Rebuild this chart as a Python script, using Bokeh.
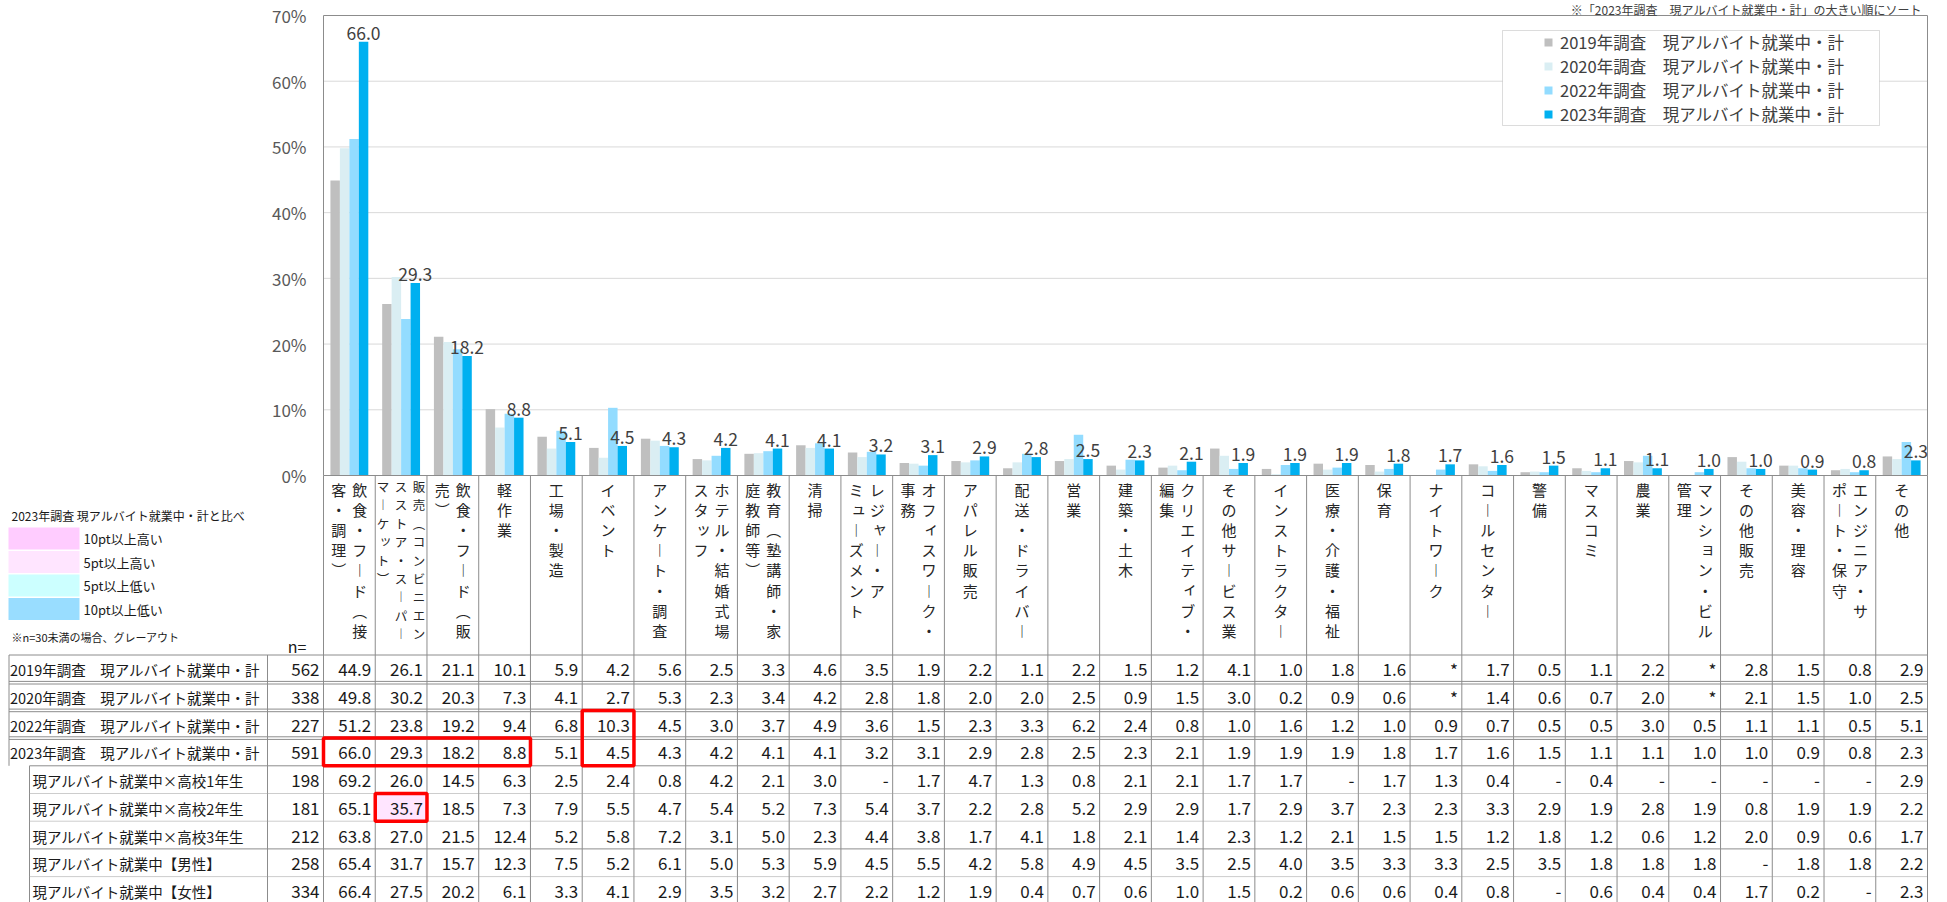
import math
from bokeh.plotting import figure
from bokeh.models import (Range1d, Legend, LegendItem, BoxAnnotation, ColumnDataSource)
from bokeh.embed import file_html
from bokeh.resources import INLINE
from bokeh.core.properties import value

# ---------------- data ----------------
categories = [
    "飲食・フード（接客・調理）", "販売（コンビニエンスストア・スーパーマーケット）", "飲食・フード（販売）",
    "軽作業", "工場・製造", "イベント", "アンケート・調査", "ホテル・結婚式場スタッフ",
    "教育（塾講師・家庭教師等）", "清掃", "レジャー・アミューズメント", "オフィスワーク・事務",
    "アパレル販売", "配送・ドライバー", "営業", "建築・土木", "クリエイティブ・編集",
    "その他サービス業", "インストラクター", "医療・介護・福祉", "保育", "ナイトワーク",
    "コールセンター", "警備", "マスコミ", "農業", "マンション・ビル管理", "その他販売",
    "美容・理容", "エンジニア・サポート・保守", "その他",
]
# characters per vertical label column (right column first)
label_col_lengths = [
    [8, 5], [9, 9, 6], [8, 2], [3], [5], [4], [8], [8, 4], [8, 5], [2], [6, 7], [8, 2],
    [6], [8], [2], [5], [8, 2], [8], [8], [8], [2], [6], [7], [2], [4], [2], [8, 2],
    [5], [5], [7, 6], [3],
]

series_names = [
    "2019年調査\u3000現アルバイト就業中・計",
    "2020年調査\u3000現アルバイト就業中・計",
    "2022年調査\u3000現アルバイト就業中・計",
    "2023年調査\u3000現アルバイト就業中・計",
]
series_n = [562, 338, 227, 591]
v2019 = [44.9, 26.1, 21.1, 10.1, 5.9, 4.2, 5.6, 2.5, 3.3, 4.6, 3.5, 1.9, 2.2, 1.1, 2.2, 1.5,
         1.2, 4.1, 1.0, 1.8, 1.6, None, 1.7, 0.5, 1.1, 2.2, None, 2.8, 1.5, 0.8, 2.9]
v2020 = [49.8, 30.2, 20.3, 7.3, 4.1, 2.7, 5.3, 2.3, 3.4, 4.2, 2.8, 1.8, 2.0, 2.0, 2.5, 0.9,
         1.5, 3.0, 0.2, 0.9, 0.6, None, 1.4, 0.6, 0.7, 2.0, None, 2.1, 1.5, 1.0, 2.5]
v2022 = [51.2, 23.8, 19.2, 9.4, 6.8, 10.3, 4.5, 3.0, 3.7, 4.9, 3.6, 1.5, 2.3, 3.3, 6.2, 2.4,
         0.8, 1.0, 1.6, 1.2, 1.0, 0.9, 0.7, 0.5, 0.5, 3.0, 0.5, 1.1, 1.1, 0.5, 5.1]
v2023 = [66.0, 29.3, 18.2, 8.8, 5.1, 4.5, 4.3, 4.2, 4.1, 4.1, 3.2, 3.1, 2.9, 2.8, 2.5, 2.3,
         2.1, 1.9, 1.9, 1.9, 1.8, 1.7, 1.6, 1.5, 1.1, 1.1, 1.0, 1.0, 0.9, 0.8, 2.3]

sub_names = [
    "現アルバイト就業中×高校1年生", "現アルバイト就業中×高校2年生", "現アルバイト就業中×高校3年生",
    "現アルバイト就業中【男性】", "現アルバイト就業中【女性】",
]
sub_n = [198, 181, 212, 258, 334]
grade1 = [69.2, 26.0, 14.5, 6.3, 2.5, 2.4, 0.8, 4.2, 2.1, 3.0, None, 1.7, 4.7, 1.3, 0.8, 2.1,
          2.1, 1.7, 1.7, None, 1.7, 1.3, 0.4, None, 0.4, None, None, None, None, None, 2.9]
grade2 = [65.1, 35.7, 18.5, 7.3, 7.9, 5.5, 4.7, 5.4, 5.2, 7.3, 5.4, 3.7, 2.2, 2.8, 5.2, 2.9,
          2.9, 1.7, 2.9, 3.7, 2.3, 2.3, 3.3, 2.9, 1.9, 2.8, 1.9, 0.8, 1.9, 1.9, 2.2]
grade3 = [63.8, 27.0, 21.5, 12.4, 5.2, 5.8, 7.2, 3.1, 5.0, 2.3, 4.4, 3.8, 1.7, 4.1, 1.8, 2.1,
          1.4, 2.3, 1.2, 2.1, 1.5, 1.5, 1.2, 1.8, 1.2, 0.6, 1.2, 2.0, 0.9, 0.6, 1.7]
male = [65.4, 31.7, 15.7, 12.3, 7.5, 5.2, 6.1, 5.0, 5.3, 5.9, 4.5, 5.5, 4.2, 5.8, 4.9, 4.5,
        3.5, 2.5, 4.0, 3.5, 3.3, 3.3, 2.5, 3.5, 1.8, 1.8, 1.8, None, 1.8, 1.8, 2.2]
female = [66.4, 27.5, 20.2, 6.1, 3.3, 4.1, 2.9, 3.5, 3.2, 2.7, 2.2, 1.2, 1.9, 0.4, 0.7, 0.6,
          1.0, 1.5, 0.2, 0.6, 0.6, 0.4, 0.8, None, 0.6, 0.4, 0.4, 1.7, 0.2, None, 2.3]

yticks = [0, 10, 20, 30, 40, 50, 60, 70]
sort_note = "※「2023年調査\u3000現アルバイト就業中・計」の大きい順にソート"
legend_title = "2023年調査 現アルバイト就業中・計と比べ"
legend_levels = ["10pt以上高い", "5pt以上高い", "5pt以上低い", "10pt以上低い"]
legend_level_colors = ["#FFCCFF", "#FFE5FF", "#CCFFFF", "#99DDFF"]
note_text = "※n=30未満の場合、グレーアウト"
# red highlight boxes: (first row, last row, first col, last col)
highlights = [(3, 3, 0, 3), (2, 3, 5, 5), (5, 5, 1, 1)]

# ---------------- layout constants ----------------
FONT = "Noto Sans CJK JP"
GRAY = "#8C8C8C"
N = len(categories)
L = 1604 / N              # pixels per category
TOP, BOT = 0, 902          # page y covered by the canvas
LEFT, RIGHT = 0, 1947      # page x covered by the canvas


def px2idx(px):
    return (px - 323) / L


def pct_at(py):            # value of the % scale at page y
    return (475 - py) / 460 * 70


colors = ["#BFBFBF", "#DAEEF3", "#93DCFF", "#00B0F0"]
offsets = [-0.2745, -0.0915, 0.0915, 0.2745]
BW = 0.183

p = figure(width=RIGHT - LEFT, height=BOT - TOP,
           x_range=Range1d(px2idx(LEFT), px2idx(RIGHT)), y_range=Range1d(BOT, TOP),
           extra_y_ranges={"pct": Range1d(pct_at(BOT), pct_at(TOP))},
           output_backend="svg", toolbar_location=None, x_axis_location=None,
           y_axis_location=None, min_border=0, outline_line_color=None,
           background_fill_color="white", border_fill_color="white")
p.xgrid.grid_line_color = None
p.ygrid.grid_line_color = None

# ---------------- chart part (on the % scale) ----------------
gy = yticks[1:-1]
p.segment(x0=[0] * len(gy), x1=[N] * len(gy), y0=gy, y1=gy, line_color="#D9D9D9",
          line_width=1, y_range_name="pct")

renderers = []
for vals, col, off in zip([v2019, v2020, v2022, v2023], colors, offsets):
    src = ColumnDataSource(dict(x=[i + 0.5 + off for i in range(N)],
                                top=[math.nan if v is None else v for v in vals]))
    r = p.vbar(x="x", top="top", bottom=0, width=BW, source=src, fill_color=col,
               line_color=None, y_range_name="pct")
    renderers.append(r)

# frame of the chart
p.segment(x0=[0, 0, 0, N], x1=[N, N, 0, N], y0=[70, 0, 0, 0], y1=[70, 0, 70, 70],
          line_color=GRAY, line_width=1, y_range_name="pct")

# y tick labels
p.text(x=[0] * len(yticks), y=yticks, text=[f"{t}%" for t in yticks], x_offset=-17,
       text_align="right", text_baseline="middle", text_font=value(FONT),
       text_font_size=value("17px"), text_color="#595959", y_range_name="pct")

# data labels (2023)
lab_src = ColumnDataSource(dict(x=[i + 0.5 + offsets[3] for i in range(N)], y=v2023,
                                t=[f"{v:.1f}" for v in v2023]))
p.text(x="x", y="y", text="t", source=lab_src, text_align="center", text_baseline="bottom",
       y_offset=-2, text_font=value(FONT), text_font_size=value("17.5px"),
       text_color="#404040", y_range_name="pct")

# sort note above the chart
p.text(x=[px2idx(1921)], y=[8.5], text=[sort_note], text_align="right", text_baseline="middle",
       text_font=value(FONT), text_font_size=value("12px"), text_color="#404040")

# legend (top right)
p.add_layout(BoxAnnotation(left=px2idx(1502), right=px2idx(1879), top=30, bottom=125,
                           fill_color="white", fill_alpha=1, line_color=GRAY, line_width=1))
legend = Legend(items=[LegendItem(label=nm, renderers=[r]) for nm, r in zip(series_names, renderers)],
                location=(1543 - LEFT, BOT - 126), orientation="vertical", padding=0, spacing=-2,
                margin=0, label_height=23, glyph_width=10, glyph_height=10, label_standoff=7,
                label_text_font=FONT, label_text_font_size="16.5px", label_text_color="#404040",
                border_line_alpha=0, background_fill_alpha=0)
p.add_layout(legend)

# ---------------- table part (page-pixel y scale) ----------------
RH = 27.7
b = [654.5 + RH * r for r in range(10)]

row_names = series_names + sub_names
row_n = series_n + sub_n
row_vals = [v2019, v2020, v2022, v2023, grade1, grade2, grade3, male, female]


def cell_color(v, base):
    if v is None:
        return None
    dl = v - base
    if dl >= 10:
        return legend_level_colors[0]
    if dl >= 5:
        return legend_level_colors[1]
    if dl <= -10:
        return legend_level_colors[3]
    if dl <= -5:
        return legend_level_colors[2]
    return None


cl, cr, ct, cb, cc = [], [], [], [], []
for r in range(4, 9):
    for i, v in enumerate(row_vals[r]):
        c = cell_color(v, v2023[i])
        if c:
            cl.append(i); cr.append(i + 1); ct.append(b[r]); cb.append(b[r + 1]); cc.append(c)
if cl:
    p.quad(left=cl, right=cr, top=ct, bottom=cb, fill_color=cc, line_color=None)

# left legend boxes
ltops = [527, 550.5, 574, 597.5]
lbots = [549, 572.5, 596, 619.5]
p.quad(left=[px2idx(8)] * 4, right=[px2idx(79)] * 4, top=ltops, bottom=lbots,
       fill_color=legend_level_colors, line_color=None)

# table lines
sx0, sx1, sy0, sy1 = [], [], [], []
for i in range(N + 1):
    sx0.append(i); sx1.append(i); sy0.append(475); sy1.append(BOT)
for px, y0, y1 in [(267, b[0], BOT), (8.5, b[0], b[4]), (29, b[4], BOT)]:
    sx0.append(px2idx(px)); sx1.append(px2idx(px)); sy0.append(y0); sy1.append(y1)
sx0.append(px2idx(8.5)); sx1.append(N); sy0.append(b[0]); sy1.append(b[0])
for r in (1, 2, 3):
    for dy in (-1.3, 1.3):
        sx0.append(px2idx(8.5)); sx1.append(N); sy0.append(b[r] + dy); sy1.append(b[r] + dy)
for r in (4, 7):
    sx0.append(px2idx(29)); sx1.append(N); sy0.append(b[r]); sy1.append(b[r])
p.segment(x0=sx0, y0=sy0, x1=sx1, y1=sy1, line_color=GRAY, line_width=1)
dots = [5, 6, 8]
p.segment(x0=[px2idx(29)] * len(dots), x1=[N] * len(dots), y0=[b[r] for r in dots],
          y1=[b[r] for r in dots], line_color="#9A9A9A", line_width=1, line_dash="1 1")

# header vertical labels
vmap = {"ー": "︱", "（": "︵", "）": "︶"}
small = set("ッャュョィェァォ")
hx, hxo, hy, ht, hs = [], [], [], [], []
for i, (name, lens) in enumerate(zip(categories, label_col_lengths)):
    ncol = len(lens)
    if ncol == 3:
        sp, step, y0, fs = 18, 18.4, 486, "12.5px"
    else:
        sp, step, y0, fs = 21, 20.1, 489, "15px"
    pos = 0
    for j, ln in enumerate(lens):
        seg = name[pos:pos + ln]
        pos += ln
        xo = (ncol - 1) / 2 * sp - j * sp
        for k, ch in enumerate(seg):
            dx, dy = (2.5, -2.5) if ch in small else (0, 0)
            hx.append(i + 0.5); hxo.append(xo + dx); hy.append(y0 + k * step + dy)
            ht.append(vmap.get(ch, ch)); hs.append(fs)
hsrc = ColumnDataSource(dict(x=hx, xo=hxo, y=hy, t=ht, fs=hs))
p.text(x="x", y="y", text="t", x_offset="xo", source=hsrc, text_align="center",
       text_baseline="middle", text_font=value(FONT), text_font_size="fs", text_color="#262626")

# table texts
tx, ty, tt = [], [], []
for r, vals in enumerate(row_vals):
    miss = "*" if r < 4 else "-"
    for i, v in enumerate(vals):
        tx.append(i + 1); ty.append(b[r] + RH / 2 + 1)
        tt.append(miss if v is None else f"{v:.1f}")
    tx.append(0); ty.append(b[r] + RH / 2 + 1); tt.append(str(row_n[r]))
tsrc = ColumnDataSource(dict(x=tx, y=ty, t=tt))
p.text(x="x", y="y", text="t", source=tsrc, text_align="right", text_baseline="middle",
       x_offset=-4, text_font=value(FONT), text_font_size=value("17px"), text_color="#1A1A1A")

rlx = [px2idx(9.5) if r < 4 else px2idx(32) for r in range(9)]
rly = [b[r] + RH / 2 + 1 for r in range(9)]
p.text(x=rlx, y=rly, text=row_names, text_align="left", text_baseline="middle",
       text_font=value(FONT), text_font_size=value("14.5px"), text_color="#1A1A1A")

p.text(x=[px2idx(306)], y=[645], text=["n="], text_align="right", text_baseline="middle",
       text_font=value(FONT), text_font_size=value("16px"), text_color="#1A1A1A")
p.text(x=[px2idx(11)], y=[515], text=[legend_title], text_align="left", text_baseline="middle",
       text_font=value(FONT), text_font_size=value("12px"), text_color="#1A1A1A")
p.text(x=[px2idx(83)] * 4, y=[(t + bb) / 2 for t, bb in zip(ltops, lbots)], text=legend_levels,
       text_align="left", text_baseline="middle", text_font=value(FONT),
       text_font_size=value("13px"), text_color="#1A1A1A")
p.text(x=[px2idx(11)], y=[636], text=[note_text], text_align="left", text_baseline="middle",
       text_font=value(FONT), text_font_size=value("11px"), text_color="#1A1A1A")

# red boxes
p.quad(left=[h[2] for h in highlights], right=[h[3] + 1 for h in highlights],
       top=[b[h[0]] for h in highlights], bottom=[b[h[1] + 1] for h in highlights],
       fill_color=None, line_color="#FF0000", line_width=3.5)

open("out.html", "w").write(file_html(p, INLINE))
